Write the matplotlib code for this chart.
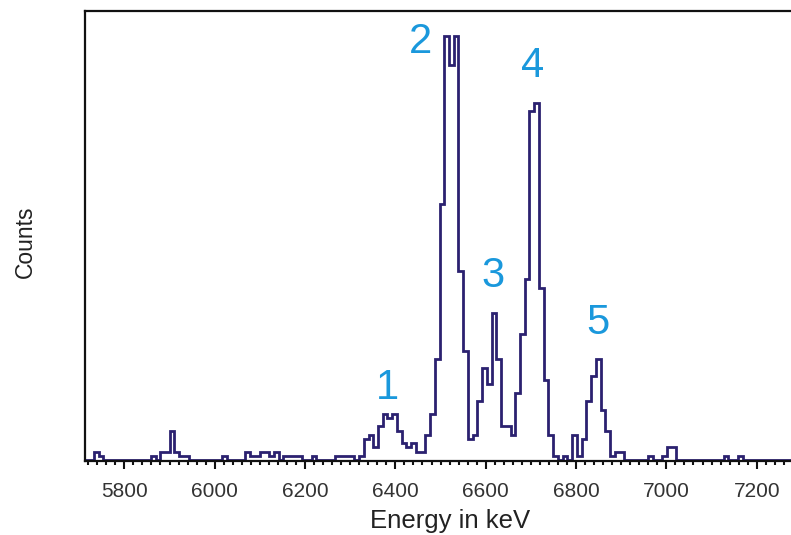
import numpy as np
import matplotlib
matplotlib.use("Agg")
import matplotlib.pyplot as plt
from matplotlib.ticker import MultipleLocator

# Channel calibration (keV)
E_START = 5711.8
E_WIDTH = 10.48

# Counts per channel
counts = [
    0, 0, 2, 1, 0, 0, 0, 0, 0, 0,
    0, 0, 0, 0, 1, 0, 2, 2, 7, 2,
    1, 1, 0, 0, 0, 0, 0, 0, 0, 1,
    0, 0, 0, 0, 2, 1, 1, 2, 2, 1,
    2, 0, 1, 1, 1, 1, 0, 0, 1, 0,
    0, 0, 0, 1, 1, 1, 1, 0, 1, 5,
    6, 3, 8, 11, 10, 11, 7, 4, 3, 4,
    2, 2, 6, 11, 24, 61, 101, 94, 101, 45,
    26, 5, 6, 14, 22, 18, 35, 24, 8, 8,
    6, 16, 30, 43, 83, 85, 41, 19, 6, 1,
    0, 1, 0, 6, 1, 5, 14, 20, 24, 12,
    7, 1, 2, 2, 0, 0, 0, 0, 0, 1,
    0, 0, 1, 3, 3, 0, 0, 0, 0, 0,
    0, 0, 0, 0, 0, 1, 0, 0, 1, 0,
    0, 0, 0, 0, 0, 0, 0, 0, 0, 0,
]

peak_labels = ["1", "2", "3", "4", "5"]
peak_label_energy = [6382, 6455, 6617, 6704, 6848]
peak_label_counts = [17.1, 99.5, 43.8, 93.8, 32.6]

x_ticks = [5800, 6000, 6200, 6400, 6600, 6800, 7000, 7200]

edges = E_START + E_WIDTH * np.arange(len(counts) + 1)

fig = plt.figure(figsize=(7.91, 5.35), dpi=100)
ax = fig.add_axes([85 / 791, 74 / 535, 1 - 85 / 791 + 0.001, 450 / 535])

ax.stairs(counts, edges, color="#2b2170", linewidth=2.0, baseline=None)

ax.set_xlim(5712.9, 7277.6)
ax.set_ylim(-0.24, 106.9)

for lab, ex, cy in zip(peak_labels, peak_label_energy, peak_label_counts):
    ax.text(ex, cy, lab, color="#1a98dc", fontsize=30, ha="center", va="center",
            family="Liberation Sans")

ax.set_xticks(x_ticks)
ax.set_xticklabels([str(t) for t in x_ticks], family="Liberation Sans",
                   fontsize=15, color="#333333")
ax.xaxis.set_minor_locator(MultipleLocator(20))
ax.tick_params(axis="x", which="major", direction="out", length=6, width=1.5,
               color="#111111", pad=9)
ax.tick_params(axis="x", which="minor", direction="out", length=3, width=1.5,
               color="#111111")
ax.set_yticks([])

for s in ["left", "bottom", "top"]:
    ax.spines[s].set_linewidth(1.6)
    ax.spines[s].set_color("#111111")
ax.spines["right"].set_visible(False)

fig.text(450 / 791, 1 - 521 / 535, "Energy in keV", ha="center", va="center",
         fontsize=18.5, color="#222222", family="Liberation Sans")
fig.text(25 / 791, 1 - 242 / 535, "Counts", ha="center", va="center",
         rotation=90, fontsize=16.5, color="#222222", family="Liberation Sans")

fig.savefig("out.png", dpi=100)
